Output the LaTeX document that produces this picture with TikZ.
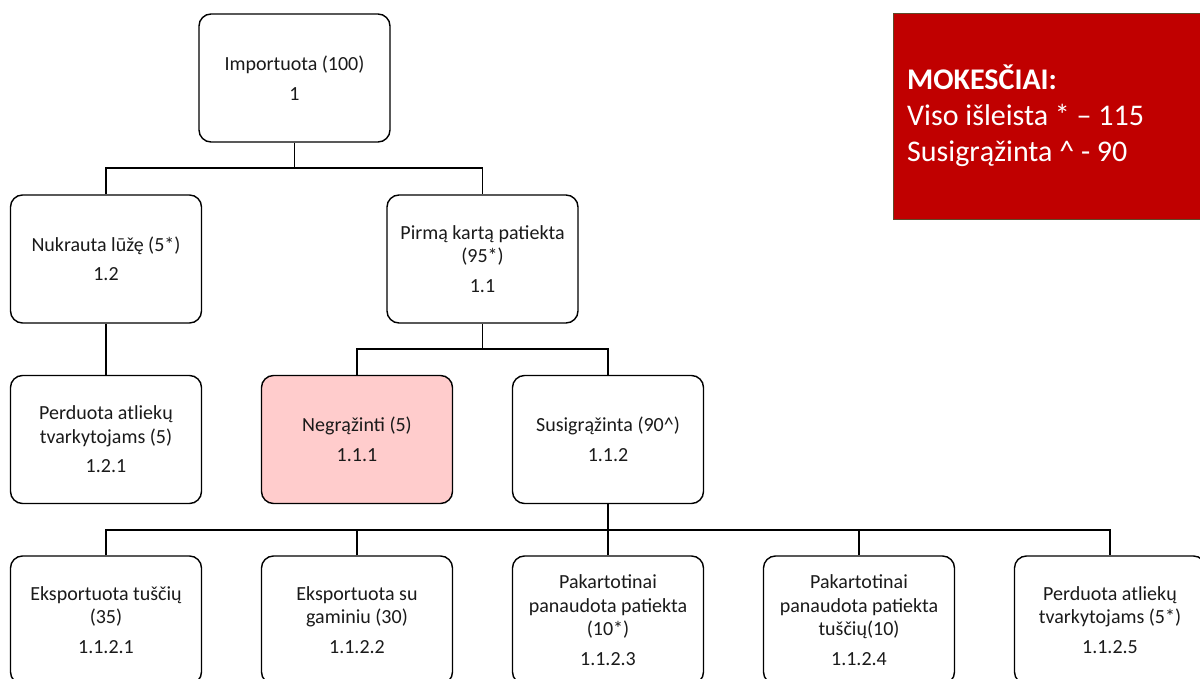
\documentclass[tikz,border=0pt]{standalone}
\usepackage{fontspec}
\setmainfont{Carlito}
\definecolor{feered}{HTML}{C00000}
\definecolor{feeborder}{HTML}{5E4A2A}
\definecolor{pinkfill}{HTML}{FFCCCC}
\definecolor{txt}{HTML}{1A1A1A}
\begin{document}
\begin{tikzpicture}[x=1pt,y=-1pt,
  box/.style={draw=black, line width=1.4pt, rounded corners=12pt, fill=white,
    minimum width=191pt, minimum height=128pt, align=center, text=txt,
    inner sep=0pt, font=\fontsize{20}{23.5}\selectfont},
  link/.style={draw=black, line width=1.4pt}
]
\useasboundingbox (0,0) rectangle (1200,679);
\begin{scope}
\clip (0,0) rectangle (1200,679);
% top
\node[box] (top) at (294.5,78) {Importuota (100)\\[6pt]1};
% level 2
\node[box] (n12) at (106,259) {Nukrauta lūžę (5*)\\[6pt]1.2};
\node[box] (n11) at (482.5,259) {Pirmą kartą patiekta\\(95*)\\[6pt]1.1};
% level 3
\node[box] (n121) at (106,439.5) {Perduota atliekų\\tvarkytojams (5)\\[6pt]1.2.1};
\node[box, fill=pinkfill] (n111) at (357,439.5) {Negrąžinti (5)\\[6pt]1.1.1};
\node[box] (n112) at (608,439.5) {Susigrąžinta (90\textasciicircum)\\[6pt]1.1.2};
% level 4
\node[box] (n1121) at (106,620) {Eksportuota tuščių\\(35)\\[6pt]1.1.2.1};
\node[box] (n1122) at (357,620) {Eksportuota su\\gaminiu (30)\\[6pt]1.1.2.2};
\node[box] (n1123) at (608,620) {Pakartotinai\\panaudota patiekta\\(10*)\\[6pt]1.1.2.3};
\node[box] (n1124) at (859,620) {Pakartotinai\\panaudota patiekta\\tuščių(10)\\[6pt]1.1.2.4};
\node[box] (n1125) at (1110,620) {Perduota atliekų\\tvarkytojams (5*)\\[6pt]1.1.2.5};
% junctions
\coordinate (j1) at (294.5,168);
\coordinate (j2) at (482.5,349);
\coordinate (j3) at (608,530);
\draw[link] (top.south) -- (j1);
\draw[link] (n12.north) |- (j1) -| (n11.north);
\draw[link] (n12.south) -- (n121.north);
\draw[link] (n11.south) -- (j2);
\draw[link] (n111.north) |- (j2) -| (n112.north);
\draw[link] (n112.south) -- (j3);
\draw[link] (n1121.north) |- (j3) -| (n1125.north);
\draw[link] (n1122.north) -- (n1122.north |- j3);
\draw[link] (n1123.north) -- (n1123.north |- j3);
\draw[link] (n1124.north) -- (n1124.north |- j3);
% fees box
\node[draw=feeborder, line width=1.2pt, fill=feered, minimum width=320pt, minimum height=206pt, anchor=north west, inner sep=0pt] (fees) at (893,13) {};
\node[anchor=west, align=left, text=white, inner sep=0pt, font=\fontsize{30}{36}\selectfont] (feetext) at (907,116)
  {\textbf{MOKESČIAI:}\\Viso išleista * – 115\\Susigrąžinta \textasciicircum{} - 90};
\end{scope}
\end{tikzpicture}
\end{document}
